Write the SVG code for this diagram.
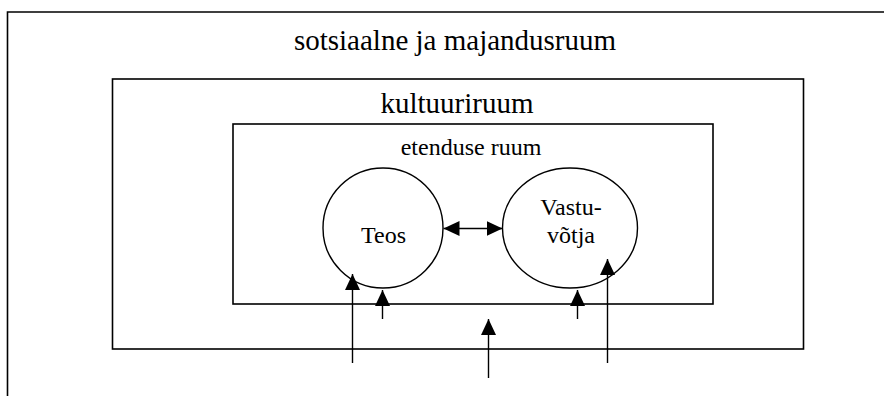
<svg xmlns="http://www.w3.org/2000/svg" width="884" height="396" viewBox="0 0 884 396">
<style>
.box{fill:none;stroke:#000;stroke-width:1.6}
.ell{fill:#fff;stroke:#000;stroke-width:1.4}
.t{font-family:"Liberation Serif","Times New Roman",serif;fill:#000;text-anchor:middle}
.c{stroke:#000;stroke-width:1.4;fill:none}
</style>
<defs>
<marker id="ah" viewBox="0 0 16 15" refX="16" refY="7.5" markerWidth="16" markerHeight="15" markerUnits="userSpaceOnUse" orient="auto-start-reverse">
<path d="M0,0 L16,7.5 L0,15 z" fill="#000"/>
</marker>
</defs>
<rect width="884" height="396" fill="#fff"/>
<g id="sotsiaalne">
<path class="box" d="M7.5,396 V12 H884"/>
<text class="t" x="455" y="50" font-size="29">sotsiaalne ja majandusruum</text>
</g>
<g id="kultuuriruum">
<rect class="box" x="112.5" y="79" width="691" height="270"/>
<text class="t" x="457" y="113" font-size="29">kultuuriruum</text>
</g>
<g id="etenduse">
<rect class="box" x="233" y="124" width="480" height="180"/>
<text class="t" x="471" y="155" font-size="24">etenduse ruum</text>
</g>
<g id="teos">
<ellipse class="ell" cx="383" cy="228" rx="60" ry="60"/>
<text class="t" x="383.5" y="243" font-size="24">Teos</text>
</g>
<g id="vastuvotja">
<ellipse class="ell" cx="570" cy="228" rx="67.5" ry="60"/>
<text class="t" x="571" y="215" font-size="24">Vastu-</text>
<text class="t" x="571" y="243" font-size="24">võtja</text>
</g>
<g id="connectors">
<line class="c" x1="443.5" y1="228.5" x2="502.5" y2="228.5" marker-start="url(#ah)" marker-end="url(#ah)"/>
<line class="c" x1="352.5" y1="363" x2="352.5" y2="274" marker-end="url(#ah)"/>
<line class="c" x1="382.5" y1="319" x2="382.5" y2="290" marker-end="url(#ah)"/>
<line class="c" x1="488.5" y1="378" x2="488.5" y2="319" marker-end="url(#ah)"/>
<line class="c" x1="577.5" y1="319" x2="577.5" y2="290" marker-end="url(#ah)"/>
<line class="c" x1="607.5" y1="363" x2="607.5" y2="259" marker-end="url(#ah)"/>
</g>
</svg>
